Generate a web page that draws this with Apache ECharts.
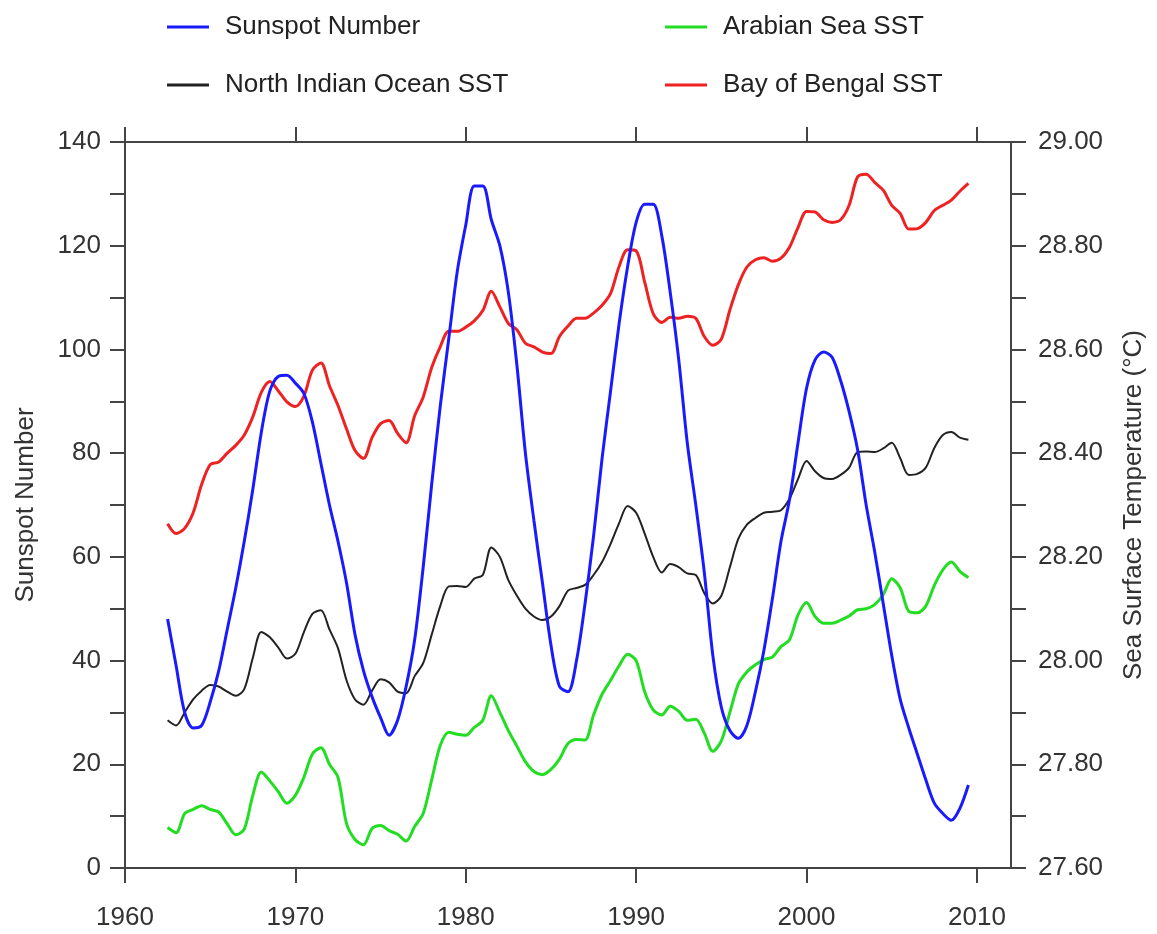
<!DOCTYPE html>
<html>
<head>
<meta charset="utf-8">
<script src="https://cdn.jsdelivr.net/npm/echarts@6/dist/echarts.min.js"></script>
<style>html,body{margin:0;padding:0;background:#fff}#c{width:1157px;height:934px}</style>
</head>
<body>
<div id="c"></div>
<script>
const years = [1962.5,1963,1963.5,1964,1964.5,1965,1965.5,1966,1966.5,1967,1967.5,1968,1968.5,1969,1969.5,1970,1970.5,1971,1971.5,1972,1972.5,1973,1973.5,1974,1974.5,1975,1975.5,1976,1976.5,1977,1977.5,1978,1978.5,1979,1979.5,1980,1980.5,1981,1981.5,1982,1982.5,1983,1983.5,1984,1984.5,1985,1985.5,1986,1986.5,1987,1987.5,1988,1988.5,1989,1989.5,1990,1990.5,1991,1991.5,1992,1992.5,1993,1993.5,1994,1994.5,1995,1995.5,1996,1996.5,1997,1997.5,1998,1998.5,1999,1999.5,2000,2000.5,2001,2001.5,2002,2002.5,2003,2003.5,2004,2004.5,2005,2005.5,2006,2006.5,2007,2007.5,2008,2008.5,2009,2009.5];

const sunspot = [48,39,30,27,27.5,32,38,46,54,63,73,84,92,94.8,95,93.5,91.5,86,78,70,63,55,45,38,33,29,25.6,28.5,35,44,58,74,89,102,115,124,131.5,131.5,125,120,111,97,80,67,55,43,35,34,40,51,64,79,92,105,116,124.5,128,128,122,111,98,82,70,57,41,31,26.5,25,27.5,34,42,52,63,71,82,92.5,98,99.5,98.5,94,88,80.6,70,61,51,41,32.5,27,22,17,12.5,10.5,9.2,11.5,16];

const northIndianSST = [27.885,27.875,27.9,27.925,27.942,27.953,27.95,27.94,27.932,27.945,28.005,28.055,28.045,28.025,28.004,28.013,28.055,28.09,28.097,28.06,28.024,27.962,27.925,27.915,27.942,27.964,27.958,27.94,27.937,27.97,27.995,28.05,28.105,28.143,28.144,28.142,28.158,28.165,28.218,28.2,28.155,28.125,28.1,28.085,28.078,28.085,28.105,28.135,28.14,28.146,28.165,28.19,28.225,28.265,28.298,28.285,28.245,28.2,28.17,28.186,28.18,28.168,28.165,28.13,28.11,28.125,28.18,28.235,28.262,28.275,28.285,28.287,28.29,28.312,28.35,28.385,28.365,28.352,28.35,28.358,28.372,28.402,28.403,28.402,28.409,28.42,28.39,28.358,28.36,28.372,28.41,28.435,28.441,28.43,28.426];

const arabianSST = [27.678,27.668,27.705,27.713,27.72,27.713,27.708,27.685,27.664,27.675,27.74,27.785,27.768,27.747,27.725,27.74,27.775,27.82,27.832,27.8,27.775,27.686,27.655,27.645,27.676,27.682,27.672,27.665,27.652,27.68,27.705,27.77,27.836,27.862,27.858,27.856,27.871,27.885,27.932,27.9,27.865,27.835,27.805,27.786,27.78,27.79,27.81,27.84,27.848,27.847,27.895,27.935,27.962,27.99,28.012,28.0,27.94,27.905,27.895,27.912,27.902,27.885,27.887,27.86,27.825,27.845,27.9,27.955,27.978,27.992,28.002,28.007,28.027,28.04,28.088,28.112,28.085,28.072,28.072,28.078,28.086,28.098,28.1,28.108,28.127,28.158,28.14,28.095,28.092,28.105,28.145,28.175,28.19,28.172,28.16];

const bengalSST = [28.264,28.245,28.255,28.285,28.34,28.378,28.383,28.4,28.415,28.435,28.47,28.517,28.538,28.52,28.499,28.49,28.51,28.56,28.574,28.53,28.492,28.447,28.405,28.39,28.43,28.457,28.463,28.438,28.42,28.472,28.508,28.565,28.605,28.635,28.635,28.643,28.655,28.675,28.712,28.682,28.65,28.638,28.612,28.605,28.595,28.592,28.625,28.645,28.66,28.66,28.67,28.685,28.708,28.76,28.792,28.79,28.73,28.669,28.652,28.662,28.66,28.664,28.66,28.625,28.608,28.62,28.676,28.725,28.759,28.773,28.777,28.77,28.776,28.797,28.835,28.866,28.865,28.85,28.845,28.85,28.878,28.933,28.938,28.922,28.907,28.878,28.862,28.832,28.833,28.845,28.868,28.878,28.888,28.905,28.92];

const xTickValues = [1960,1970,1980,1990,2000,2010];
const seriesNames = ['Sunspot Number','North Indian Ocean SST','Arabian Sea SST','Bay of Bengal SST'];

const FONT = '"Liberation Sans", Arial, sans-serif';
const FS = 26;
const AX = '#444';
const TXT = '#333';
const pair = arr => years.map((y, i) => [y, arr[i]]);

const chart = echarts.init(document.getElementById('c'), null, {renderer: 'canvas'});

function legendAt(name, left, top) {
  return {
    data: [name], left: left, top: top, icon: 'rect', itemWidth: 42, itemHeight: 3,
    selectedMode: false,
    textStyle: {fontSize: FS, color: '#222', fontFamily: FONT, lineHeight: 30, padding: [0, 0, 0, 11]}
  };
}

const xCommon = {
  type: 'value', min: 1960, max: 2012, interval: 10,
  axisLine: {show: true, onZero: false, lineStyle: {color: AX, width: 2}},
  axisTick: {show: true, length: 15, lineStyle: {color: AX, width: 2}, customValues: xTickValues},
  splitLine: {show: false}
};

chart.setOption({
  animation: false,
  backgroundColor: '#fff',
  grid: {left: 125, right: 146, top: 142, bottom: 66, containLabel: false},
  legend: [
    legendAt(seriesNames[0], 162, 7),
    legendAt(seriesNames[1], 162, 65),
    legendAt(seriesNames[2], 660, 7),
    legendAt(seriesNames[3], 660, 65)
  ],
  xAxis: [
    Object.assign({}, xCommon, {
      position: 'bottom',
      axisLabel: {fontSize: FS, color: TXT, fontFamily: FONT, margin: 37, customValues: xTickValues,
        formatter: v => String(Math.round(v))}
    }),
    Object.assign({}, xCommon, {
      position: 'top',
      axisLabel: {show: false}
    })
  ],
  yAxis: [
    {
      type: 'value', min: 0, max: 140, interval: 10, position: 'left',
      name: 'Sunspot Number', nameLocation: 'middle', nameRotate: 90, nameGap: 86,
      nameTextStyle: {fontSize: FS, color: TXT, fontFamily: FONT},
      axisLine: {show: true, lineStyle: {color: AX, width: 2}},
      axisTick: {show: true, length: 15, lineStyle: {color: AX, width: 2}},
      axisLabel: {fontSize: FS, color: TXT, fontFamily: FONT, margin: 24,
        formatter: v => (Math.round(v) % 20 === 0 ? String(Math.round(v)) : '')},
      splitLine: {show: false}
    },
    {
      type: 'value', min: 27.6, max: 29.0, interval: 0.1, position: 'right',
      name: 'Sea Surface Temperature (°C)', nameLocation: 'middle', nameRotate: 90, nameGap: 110,
      nameTextStyle: {fontSize: FS, color: TXT, fontFamily: FONT},
      axisLine: {show: true, lineStyle: {color: AX, width: 2}},
      axisTick: {show: true, length: 15, lineStyle: {color: AX, width: 2}},
      axisLabel: {fontSize: FS, color: TXT, fontFamily: FONT, margin: 27,
        formatter: v => (Math.round(v * 10) % 2 === 0 ? v.toFixed(2) : '')},
      splitLine: {show: false}
    }
  ],
  series: [
    {name: seriesNames[1], type: 'line', xAxisIndex: 0, yAxisIndex: 1, data: pair(northIndianSST),
      showSymbol: false, smooth: 0.3, color: '#222', lineStyle: {width: 2, color: '#222'}},
    {name: seriesNames[2], type: 'line', xAxisIndex: 0, yAxisIndex: 1, data: pair(arabianSST),
      showSymbol: false, smooth: 0.3, color: '#22dd22', lineStyle: {width: 3, color: '#22dd22'}},
    {name: seriesNames[3], type: 'line', xAxisIndex: 0, yAxisIndex: 1, data: pair(bengalSST),
      showSymbol: false, smooth: 0.3, color: '#ee2222', lineStyle: {width: 3, color: '#ee2222'}},
    {name: seriesNames[0], type: 'line', xAxisIndex: 0, yAxisIndex: 0, data: pair(sunspot),
      showSymbol: false, smooth: 0.3, color: '#1a1aff', lineStyle: {width: 3, color: '#1a1aff'}}
  ]
});
</script>
</body>
</html>
